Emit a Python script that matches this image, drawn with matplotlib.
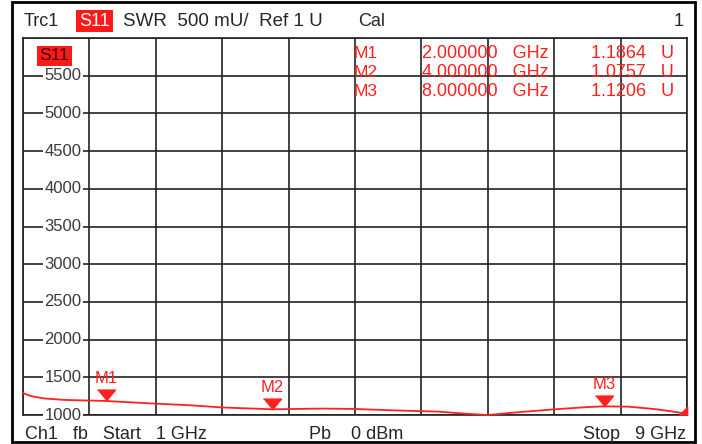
import matplotlib.pyplot as plt
import matplotlib.transforms as mtransforms
from matplotlib.patches import Rectangle

plt.rcParams['font.family'] = ['Liberation Sans', 'DejaVu Sans']

# trace data: frequency (GHz) vs SWR (U)
freq = [1.0, 1.1, 1.25, 1.5, 2.0, 2.6, 3.0, 3.4, 4.0, 4.6, 5.0, 5.5, 6.0,
        6.3, 6.6, 7.0, 7.4, 7.8, 8.0, 8.3, 8.6, 8.8, 9.0]
swr = [1.29, 1.25, 1.22, 1.20, 1.186, 1.15, 1.13, 1.10, 1.076, 1.085, 1.08,
       1.06, 1.045, 1.02, 1.0, 1.04, 1.075, 1.105, 1.115, 1.11, 1.08, 1.05, 1.015]

marker_names = ['M1', 'M2', 'M3']
marker_freq = [2.0, 4.0, 8.0]
marker_val = [1.1864, 1.0757, 1.1206]
marker_trace = [1.186, 1.076, 1.115]

y_ticks = [1000, 1500, 2000, 2500, 3000, 3500, 4000, 4500, 5000, 5500]

RED = '#ff2020'
TXT = '#262626'
W, H = 702, 444

fig = plt.figure(figsize=(W / 100, H / 100), dpi=100)
fig.patch.set_facecolor('white')

# outer instrument frame
fig.add_artist(Rectangle((12 / W, 2 / H), 683 / W, 440 / H, transform=fig.transFigure,
                         fill=False, edgecolor='black', lw=2))

ax = fig.add_axes([23 / W, 29 / H, 664 / W, 377 / H])
ax.set_xlim(1, 9)
ax.set_ylim(1000, 6000)
ax.set_xticks([1 + 0.8 * i for i in range(11)])
ax.set_yticks([1000 + 500 * i for i in range(11)])
ax.grid(True, color='#222222', lw=1.2)
ax.tick_params(length=0, labelleft=False, labelbottom=False)
for s in ax.spines.values():
    s.set_color('#222222')
    s.set_linewidth(1.2)

# y labels drawn inside the first column, breaking the grid lines
ylab_tr = mtransforms.blended_transform_factory(ax.transAxes, ax.transData)
for v in y_ticks:
    ax.text(40 / 664, v, str(v), transform=ylab_tr, ha='center', va='center',
            fontsize=12, color='#3a3a3a', zorder=3,
            bbox=dict(facecolor='white', edgecolor='none', pad=1.2))

# trace
ax.plot(freq, [v * 1000 for v in swr], color=RED, lw=1.3, zorder=4, clip_on=False)

# markers
tri = [(-1, 0.6), (1, 0.6), (0, -0.6)]
tri_off = mtransforms.offset_copy(ax.transData, fig, y=5.5, units='dots')
lab_off = mtransforms.offset_copy(ax.transData, fig, y=22, units='dots')
for name, f, t in zip(marker_names, marker_freq, marker_trace):
    ax.plot([f], [t * 1000], marker=tri, color=RED, markersize=13, transform=tri_off,
            zorder=5, clip_on=False)
    ax.text(f, t * 1000, name, transform=lab_off, ha='center', va='center',
            fontsize=12, color=RED, zorder=5)
ax.plot([9], [1000], marker=[(1, -1), (1, 1), (-1, -1)], color=RED, markersize=6,
        zorder=5, clip_on=False,
        transform=mtransforms.offset_copy(ax.transData, fig, x=-4, y=4, units='dots'))

# marker table
for i, (name, f, v) in enumerate(zip(marker_names, marker_freq, marker_val)):
    y = 1 - (53 + 19.5 * i) / H
    fig.text(354 / W, y, name, ha='left', va='center', fontsize=12.5, color=RED)
    fig.text(422 / W, y, f'{f:.6f}   GHz', ha='left', va='center', fontsize=13, color=RED)
    fig.text(674 / W, y, f'{v:.4f}   U', ha='right', va='center', fontsize=13, color=RED)

# S11 tag inside plot
fig.text(54.5 / W, 1 - 56 / H, 'S11', ha='center', va='center', fontsize=12.5,
         color='#3a0000', bbox=dict(facecolor='#ff1a1a', edgecolor='none', pad=1.5))

# header
hy = 1 - 21 / H
fig.text(24 / W, hy, 'Trc1', ha='left', va='center', fontsize=13, color=TXT)
fig.text(94.5 / W, hy, 'S11', ha='center', va='center', fontsize=13, color='white',
         bbox=dict(facecolor='#ff1a1a', edgecolor='none', pad=2))
fig.text(123 / W, hy, 'SWR  500 mU/  Ref 1 U', ha='left', va='center', fontsize=13.5,
         color=TXT)
fig.text(358 / W, hy, 'Cal', ha='left', va='center', fontsize=13, color=TXT)
fig.text(684 / W, hy, '1', ha='right', va='center', fontsize=13, color=TXT)

# footer
fy = 1 - 434 / H
fig.text(25 / W, fy, 'Ch1   fb   Start   1 GHz', ha='left', va='center', fontsize=13,
         color=TXT)
fig.text(309 / W, fy, 'Pb    0 dBm', ha='left', va='center', fontsize=13, color=TXT)
fig.text(686 / W, fy, 'Stop   9 GHz', ha='right', va='center', fontsize=13, color=TXT)

fig.savefig('out.png', dpi=100)
